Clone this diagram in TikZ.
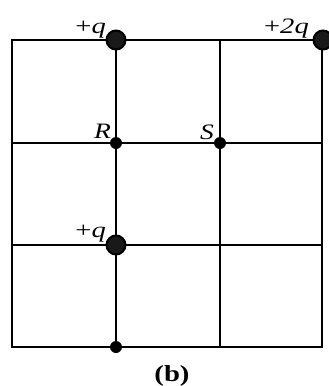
\documentclass[tikz,border=0pt]{standalone}
\usepackage{fontspec}
\setmainfont{Liberation Serif}
\begin{document}
\begin{tikzpicture}[x=1pt,y=-1pt,
  gridline/.style={line width=1.4pt,black},
  bigcharge/.style={circle,fill=black!90,draw=black,line width=2pt,minimum size=19pt,inner sep=0pt},
  smalldot/.style={circle,fill=black,minimum size=12pt,inner sep=0pt},
  lbl/.style={font=\fontsize{22}{26}\selectfont,inner sep=0pt}]
\useasboundingbox (0,0) rectangle (329,386);
% grid coordinates
\coordinate (a0) at (12,40);  \coordinate (b0) at (116,40);  \coordinate (c0) at (220,40);  \coordinate (d0) at (322,40);
\coordinate (a1) at (12,143); \coordinate (d1) at (322,143);
\coordinate (a2) at (12,245); \coordinate (d2) at (322,245);
\coordinate (a3) at (12,347); \coordinate (b3) at (116,347); \coordinate (c3) at (220,347); \coordinate (d3) at (322,347);
\draw[gridline] (a0) -- (d0) -- (d3) -- (a3) -- cycle;
\draw[gridline] (a1) -- (d1);
\draw[gridline] (a2) -- (d2);
\draw[gridline] (b0) -- (b3);
\draw[gridline] (c0) -- (c3);
% charges and points
\node[bigcharge] (q1) at (116,40) {};
\node[bigcharge] (q2) at (323,40) {};
\node[bigcharge] (q3) at (116,245) {};
\node[smalldot] (R) at (116,143) {};
\node[smalldot] (S) at (220,143) {};
\node[smalldot] (B) at (116,347) {};
% labels
\node[lbl,anchor=base east] (lq1) at (106,33) {\scalebox{1.3}[1]{+\textit{q}}};
\node[lbl,anchor=base east] (lq2) at (309,33) {\scalebox{1.3}[1]{+\textit{2q}}};
\node[lbl,anchor=base east] (lq3) at (106,237) {\scalebox{1.3}[1]{+\textit{q}}};
\node[lbl,anchor=base east] (lR) at (111,138) {\scalebox{1.25}[1]{\textit{R}}};
\node[lbl,anchor=base east] (lS) at (214,139) {\scalebox{1.25}[1]{\textit{S}}};
\node[font=\fontsize{23}{27}\selectfont\bfseries,anchor=base,inner sep=0pt] (cap) at (172,381) {\scalebox{1.25}[1]{(b)}};
\end{tikzpicture}
\end{document}
